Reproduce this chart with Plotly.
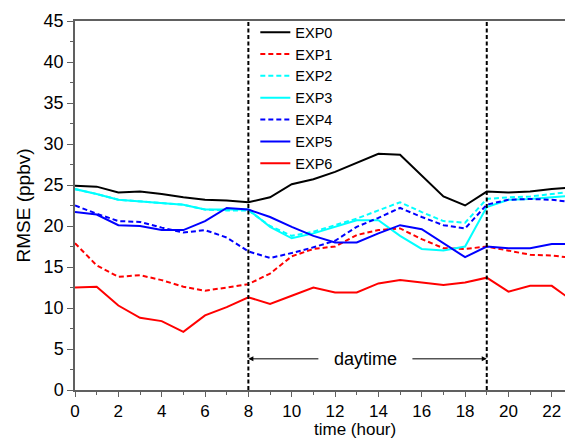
import plotly.graph_objects as go

hours = list(range(24))
EXP0 = [24.9, 24.8, 24.1, 24.2, 23.9, 23.5, 23.2, 23.1, 22.9, 23.5, 25.1, 25.7, 26.6, 27.7, 28.8, 28.7, 26.1, 23.6, 22.5, 24.2, 24.1, 24.2, 24.5, 24.7]
EXP1 = [17.9, 15.2, 13.8, 14.0, 13.4, 12.6, 12.1, 12.5, 12.9, 14.2, 16.3, 17.2, 17.5, 18.9, 19.5, 19.7, 18.4, 17.3, 17.2, 17.5, 17.0, 16.5, 16.4, 16.1]
EXP2 = [24.5, 23.9, 23.2, 23.0, 22.8, 22.6, 22.0, 21.9, 21.9, 20.0, 18.8, 19.3, 20.1, 20.9, 21.9, 22.9, 21.7, 20.6, 20.4, 23.3, 23.5, 23.6, 23.9, 24.2]
EXP3 = [24.5, 23.9, 23.2, 23.0, 22.8, 22.6, 22.0, 22.0, 22.0, 19.9, 18.5, 19.1, 19.9, 20.7, 20.7, 18.8, 17.2, 17.0, 17.5, 22.3, 23.2, 23.3, 23.5, 23.7]
EXP4 = [22.5, 21.5, 20.6, 20.5, 19.8, 19.2, 19.5, 18.6, 16.9, 16.1, 16.7, 17.4, 18.2, 19.9, 21.0, 22.2, 21.1, 20.1, 19.7, 22.6, 23.2, 23.3, 23.2, 22.9]
EXP5 = [21.7, 21.4, 20.1, 20.0, 19.5, 19.5, 20.6, 22.2, 22.0, 21.1, 19.9, 18.8, 18.0, 18.0, 19.1, 20.1, 19.6, 17.9, 16.2, 17.5, 17.3, 17.3, 17.8, 17.8]
EXP6 = [12.5, 12.6, 10.3, 8.8, 8.4, 7.1, 9.1, 10.1, 11.3, 10.5, 11.5, 12.5, 11.9, 11.9, 13.0, 13.4, 13.1, 12.8, 13.1, 13.7, 12.0, 12.7, 12.7, 10.8]

series_names = ["EXP0", "EXP1", "EXP2", "EXP3", "EXP4", "EXP5", "EXP6"]
series_values = [EXP0, EXP1, EXP2, EXP3, EXP4, EXP5, EXP6]
series_colors = ["#000000", "#ff0000", "#00ffff", "#00ffff", "#0000ff", "#0000ff", "#ff0000"]
series_dash = ["solid", "5px,3px", "5px,3px", "solid", "5px,3px", "solid", "solid"]

daytime_bounds = [8, 19]
daytime_label = "daytime"

FONT = "Liberation Sans, Arial, sans-serif"

fig = go.Figure()
for name, vals, col, dash in zip(series_names, series_values, series_colors, series_dash):
    fig.add_trace(go.Scatter(x=hours, y=vals, mode="lines", name=name,
                             line=dict(color=col, width=2, dash=dash)))

for b in daytime_bounds:
    fig.add_shape(type="line", xref="x", yref="y", x0=b, x1=b, y0=0, y1=45,
                  line=dict(color="black", width=2, dash="4px,2.5px"))

mid = (daytime_bounds[0] + daytime_bounds[1]) / 2 - 0.1
fig.add_annotation(x=mid, y=3.8, xref="x", yref="y", text=daytime_label, showarrow=False,
                   font=dict(family=FONT, size=18, color="black"))
fig.add_annotation(x=daytime_bounds[0], y=3.8, ax=11.3, ay=3.8, xref="x", yref="y",
                   axref="x", ayref="y", text="", showarrow=True, arrowhead=2,
                   arrowsize=1, arrowwidth=1, arrowcolor="black")
fig.add_annotation(x=daytime_bounds[1], y=3.8, ax=15.5, ay=3.8, xref="x", yref="y",
                   axref="x", ayref="y", text="", showarrow=True, arrowhead=2,
                   arrowsize=1, arrowwidth=1, arrowcolor="black")

fig.add_annotation(x=12.9, y=-0.1354, xref="x", yref="paper", text="time (hour)",
                   showarrow=False, yanchor="bottom", borderpad=0,
                   font=dict(family=FONT, size=17, color="black"))

axis_col = "#606060"
fig.update_layout(
    width=565, height=441,
    margin=dict(l=75, r=0, t=21, b=51),
    paper_bgcolor="white", plot_bgcolor="white",
    font=dict(family=FONT, size=17, color="black"),
    showlegend=True,
    legend=dict(x=0.368, y=1.013, xanchor="left", yanchor="top",
                bgcolor="rgba(0,0,0,0)", borderwidth=0,
                font=dict(family=FONT, size=14.5, color="black"),
                tracegroupgap=0, itemwidth=30),
    xaxis=dict(range=[0, 22.61], tickmode="array", tickvals=list(range(0, 23, 2)),
               ticks="outside", ticklen=5, tickwidth=1.2, tickcolor=axis_col,
               minor=dict(dtick=1, ticks="outside", ticklen=3, tickcolor=axis_col, tickwidth=1.2),
               showline=True, linecolor=axis_col, linewidth=1.5, mirror=True,
               showgrid=False, zeroline=False,
               tickfont=dict(family=FONT, size=17, color="black")),
    yaxis=dict(range=[0, 45], tickmode="array", tickvals=list(range(0, 46, 5)),
               ticks="outside", ticklen=6, tickwidth=1.2, tickcolor=axis_col,
               minor=dict(dtick=2.5, ticks="outside", ticklen=3, tickcolor=axis_col, tickwidth=1.2),
               showline=True, linecolor=axis_col, linewidth=1.5,
               showgrid=False, zeroline=False,
               title=dict(text="RMSE (ppbv)", standoff=8,
                          font=dict(family=FONT, size=19, color="black")),
               tickfont=dict(family=FONT, size=18, color="black")),
)

fig.write_html("out.html")
